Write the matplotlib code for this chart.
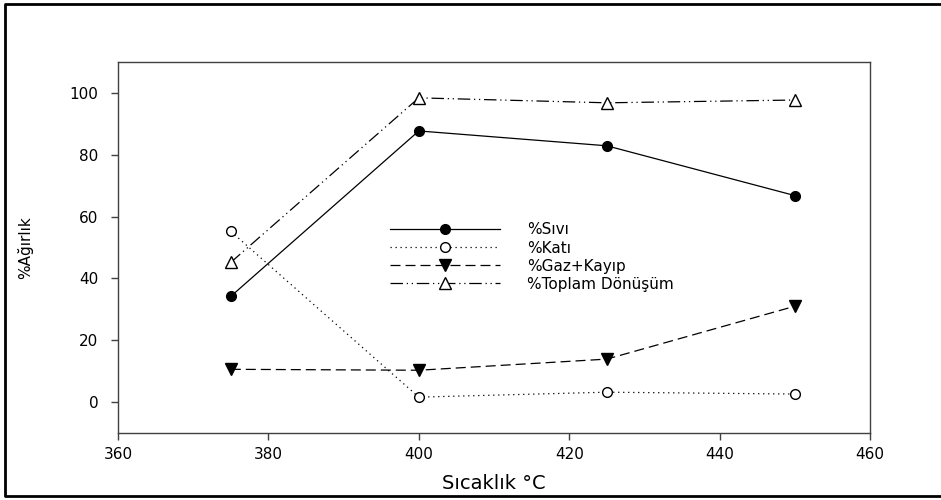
import matplotlib as mpl
mpl.use('Agg')

import matplotlib.pyplot as plt
from matplotlib.lines import Line2D

mpl.rcParams['font.family'] = ['DejaVu Sans']
mpl.rcParams['font.size'] = 11

temps = [375, 400, 425, 450]
sivi = [34.2, 87.7, 82.9, 66.8]
kati = [55.2, 1.6, 3.2, 2.6]
gaz = [10.6, 10.3, 13.9, 31.0]
toplam = [45.2, 98.4, 96.8, 97.7]

fig = plt.figure(figsize=(9.41, 5.0), dpi=100)
ax = fig.add_axes([118 / 941, 1 - 433 / 500, 752 / 941, 371 / 500])

ax.plot(temps, sivi, color='black', lw=0.9, ls='-', marker='o', ms=7,
        mfc='black', mec='black', label='%Sıvı')
ax.plot(temps, kati, color='black', lw=0.9, ls=(0, (1, 3)), marker='o', ms=7,
        mfc='white', mec='black', label='%Katı')
ax.plot(temps, gaz, color='black', lw=0.9, ls=(0, (8, 4)), marker='v', ms=8,
        mfc='black', mec='black', label='%Gaz+Kayıp')
ax.plot(temps, toplam, color='black', lw=0.9, ls=(0, (10, 3, 1, 3, 1, 3)), marker='^', ms=8,
        mfc='white', mec='black', label='%Toplam Dönüşüm')

ax.set_xlim(360, 460)
ax.set_ylim(-10, 110)
ax.set_xticks([360, 380, 400, 420, 440, 460])
ax.set_yticks([0, 20, 40, 60, 80, 100])
for s in ax.spines.values():
    s.set_color('#404040')
    s.set_linewidth(1.0)
ax.tick_params(direction='out', length=5, width=1, color='#404040', labelsize=11)
ax.tick_params(axis='y', pad=9)
ax.tick_params(axis='x', pad=5)

ax.set_xlabel('Sıcaklık °C', fontsize=14, labelpad=9)
ax.set_ylabel('%Ağırlık', fontsize=11, labelpad=26)

leg = ax.legend(loc='upper left', bbox_to_anchor=(0.352, 0.588), frameon=False,
                handlelength=7.2, handletextpad=1.75, labelspacing=0.2, borderpad=0,
                numpoints=1, fontsize=11)

# outer frame (no right edge, as in the source)
fx = [945 / 941, 5 / 941, 5 / 941, 945 / 941]
fy = [1 - 4 / 500, 1 - 4 / 500, 1 - 496 / 500, 1 - 496 / 500]
fig.lines.append(Line2D(fx, fy, transform=fig.transFigure, color='black', lw=2))

fig.savefig('out.png', dpi=100)
